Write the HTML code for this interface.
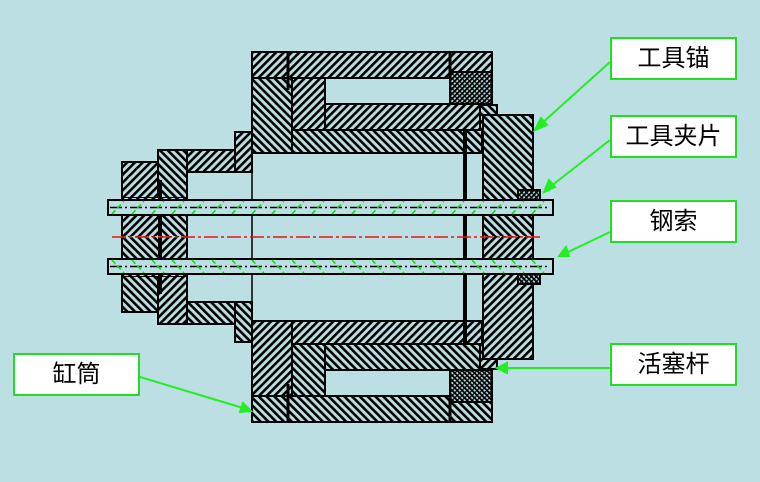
<!DOCTYPE html>
<html><head><meta charset="utf-8"><style>
html,body{margin:0;padding:0;background:#bbdfe3;}
.lb{position:absolute;background:#fff;border:2px solid #22dd22;box-sizing:border-box;font-family:"Liberation Sans","Noto Sans CJK SC",sans-serif;font-size:24px;color:#000;text-align:center;}
</style></head><body>
<div style="position:relative;width:760px;height:482px;overflow:hidden;background:#bbdfe3">
<svg width="760" height="482" style="position:absolute;left:0;top:0">
<defs>
<pattern id="hb" width="5.5" height="5.5" patternUnits="userSpaceOnUse" patternTransform="rotate(45)"><rect width="5.5" height="5.5" fill="#bbdfe3"/><rect x="0" y="0" width="2.6" height="5.5" fill="#000"/></pattern>
<pattern id="hf" width="5.5" height="5.5" patternUnits="userSpaceOnUse" patternTransform="rotate(-45)"><rect width="5.5" height="5.5" fill="#bbdfe3"/><rect x="0" y="0" width="2.6" height="5.5" fill="#000"/></pattern>
<pattern id="hd" width="3.5" height="3.5" patternUnits="userSpaceOnUse" patternTransform="rotate(45)"><rect width="3.5" height="3.5" fill="#bbdfe3"/><rect x="0" y="0" width="1.8" height="3.5" fill="#000"/><rect x="0" y="1.2" width="3.5" height="1.2" fill="#000"/></pattern>
<g id="half" stroke="#000" stroke-width="2">
<rect x="252" y="52" width="240" height="26" fill="url(#hb)"/>
<rect x="252" y="78" width="40" height="75" fill="url(#hf)"/>
<rect x="292" y="130" width="190" height="23" fill="url(#hf)"/>
<rect x="292" y="78" width="33" height="52" fill="url(#hb)"/>
<rect x="325" y="104" width="155" height="26" fill="url(#hb)"/>
<rect x="450" y="72" width="42" height="32" fill="url(#hd)"/>
<rect x="480" y="105" width="17" height="25" fill="url(#hf)"/>
<rect x="483" y="115" width="50" height="122" fill="url(#hf)"/>
<line x1="465" y1="130" x2="465" y2="237" stroke-width="4"/>
<line x1="252" y1="52" x2="252" y2="237" stroke-width="1.5"/>
<line x1="288" y1="52" x2="288" y2="90" stroke-width="3"/>
<line x1="450" y1="52" x2="450" y2="78" stroke-width="3"/>
<rect x="235" y="132" width="17" height="40" fill="url(#hb)"/>
<rect x="187" y="150" width="48" height="22" fill="url(#hb)"/>
<rect x="158" y="150" width="29" height="48" fill="url(#hf)"/>
<rect x="122" y="162" width="36" height="36" fill="url(#hb)"/>
<rect x="122" y="198" width="36" height="40" fill="url(#hb)" stroke="none"/>
<rect x="158" y="198" width="29" height="40" fill="url(#hf)" stroke="none"/>
<line x1="122" y1="198" x2="122" y2="237"/><line x1="187" y1="198" x2="187" y2="237"/>
<line x1="160" y1="180" x2="160" y2="237" stroke-width="4"/>
<rect x="484" y="200" width="48" height="38" fill="url(#hf)" stroke="none"/>
<line x1="533" y1="200" x2="533" y2="237"/>
<rect x="518" y="190" width="22" height="10" fill="url(#hd)"/>
<rect x="108" y="200" width="445" height="15" fill="#bbdfe3" stroke-width="2"/>
<line x1="110" y1="207.5" x2="550" y2="207.5" stroke-width="1.5" stroke-dasharray="12 3 2 3"/>
<path d="M112 214 l12 -13 M132 214 l12 -13 M152 214 l12 -13 M172 214 l12 -13 M192 214 l12 -13 M212 214 l12 -13 M232 214 l12 -13 M252 214 l12 -13 M272 214 l12 -13 M292 214 l12 -13 M312 214 l12 -13 M332 214 l12 -13 M352 214 l12 -13 M372 214 l12 -13 M392 214 l12 -13 M412 214 l12 -13 M432 214 l12 -13 M452 214 l12 -13 M472 214 l12 -13 M492 214 l12 -13 M512 214 l12 -13 M532 214 l12 -13" stroke="#00e000" stroke-width="1.5" stroke-dasharray="5 3"/>
</g>
</defs>
<use href="#half"/>
<use href="#half" transform="translate(0,474) scale(1,-1)"/>
<line x1="112" y1="237" x2="540" y2="237" stroke="#ee1111" stroke-width="1.5" stroke-dasharray="14 3 3 3"/>
<g stroke="#22ee22" stroke-width="2" fill="#22ee22">
<line x1="610" y1="62" x2="540" y2="125"/><polygon points="535,130 541,118 547,125"/>
<line x1="610" y1="140" x2="550" y2="187"/><polygon points="544,192 549,180 555,187"/>
<line x1="610" y1="232" x2="566" y2="253"/><polygon points="559,256 566,247 569,256"/>
<line x1="610" y1="368" x2="505" y2="368"/><polygon points="497,368 507,363 507,373"/>
<line x1="140" y1="377" x2="243" y2="408"/><polygon points="251,411 240,412 243,403"/>
</g>
</svg>
<div class="lb" style="left:610px;top:37px;width:127px;height:43px;line-height:39px">工具锚</div>
<div class="lb" style="left:610px;top:115px;width:127px;height:43px;line-height:39px">工具夹片</div>
<div class="lb" style="left:610px;top:200px;width:127px;height:43px;line-height:39px">钢索</div>
<div class="lb" style="left:610px;top:343px;width:127px;height:43px;line-height:39px">活塞杆</div>
<div class="lb" style="left:13px;top:353px;width:127px;height:43px;line-height:39px">缸筒</div>
</div>
</body></html>
